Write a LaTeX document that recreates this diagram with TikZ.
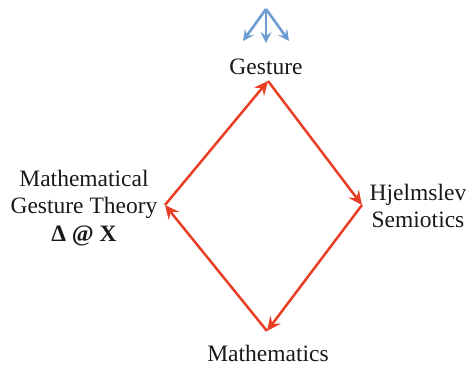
\documentclass[tikz,border=0pt]{standalone}
\usepackage{fontspec}
\setmainfont{Liberation Serif}
\usetikzlibrary{arrows.meta}
\definecolor{redarrow}{HTML}{EA3E24}
\definecolor{bluearrow}{HTML}{6C9CD2}
\tikzset{
  lbl/.style={font=\fontsize{23.5}{27.5}\selectfont, align=center, inner sep=0pt, text=black!90},
  redarr/.style={draw=redarrow, line width=2.5pt, -{Stealth[length=14pt,width=13pt,inset=5pt]}},
  bluearr/.style={draw=bluearrow, line width=2.6pt, -{Stealth[length=11pt,width=11pt,inset=4pt]}}
}
\begin{document}
\begin{tikzpicture}[x=1pt,y=-1pt]
\useasboundingbox (0,0) rectangle (466,365);
% labels
\node[lbl] (gest) at (266,67) {Gesture};
\node[lbl] (math) at (268,353) {Mathematics};
\node[lbl] (mgt) at (84,208) {Mathematical\\Gesture Theory\\\textbf{Δ @ X}};
\node[lbl] (hjel) at (418,206) {Hjelmslev\\Semiotics};
% diamond vertices
\coordinate (vt) at (268,81);
\coordinate (vr) at (362,205);
\coordinate (vb) at (267,331);
\coordinate (vl) at (165,205);
\draw[redarr] (vt) -- (vr);
\draw[redarr] (vr) -- (vb);
\draw[redarr] (vb) -- (vl);
\draw[redarr] (vl) -- (vt);
% top fork
\coordinate (apex) at (266,9);
\coordinate (fl) at (243,41);
\coordinate (fm) at (266,43);
\coordinate (fr) at (289,41);
\draw[bluearr] (apex) -- (fl);
\draw[bluearr] (apex) -- (fm);
\draw[bluearr] (apex) -- (fr);
\end{tikzpicture}
\end{document}
